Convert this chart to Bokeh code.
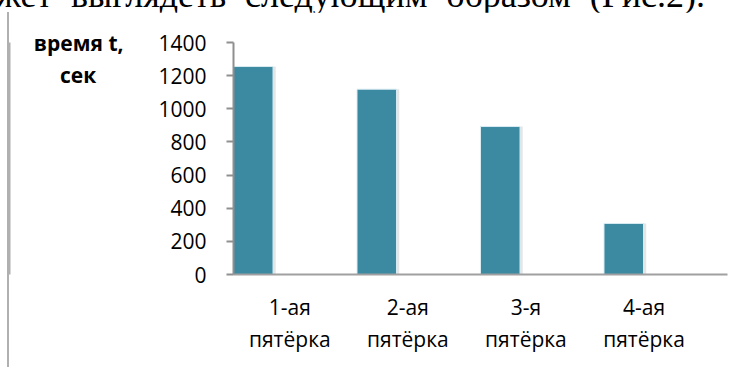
from bokeh.plotting import figure
from bokeh.models import Range1d, FixedTicker, CustomJSTickFormatter, Div, Spacer, LinearAxis
from bokeh.layouts import column, row
from bokeh.embed import file_html
from bokeh.resources import INLINE

# ---- data ----
categories = ["1-ая\nпятёрка", "2-ая\nпятёрка", "3-я\nпятёрка", "4-ая\nпятёрка"]
times = [1255, 1118, 893, 308]
y_ticks = [0, 200, 400, 600, 800, 1000, 1200, 1400]
y_title = ["время t,", "сек"]
caption = "жет выглядеть следующим образом (Рис.2)."

W, H = 747, 367
CAP_H = 12          # strip above the chart (document caption)
LINE = 2            # frame line thickness
LEFT_PAD = 7        # frame's left edge offset
PW, PH = W - LEFT_PAD - LINE, H - CAP_H
FONT = "Open Sans"
BAR = "#3b8aa2"
FRAME = "#b0b0b0"
NB = "\u00a0"

n = len(categories)
bar_x = [i + 0.16 for i in range(n)]
label_x = [i + 0.5 - 0.044 * (i + 1) for i in range(n)]

p = figure(width=PW, height=PH, output_backend="svg", toolbar_location=None,
           x_range=Range1d(0, n), y_range=Range1d(0, 1400),
           min_border_left=232 - LEFT_PAD - LINE, min_border_right=20,
           min_border_top=42 - CAP_H, min_border_bottom=93,
           background_fill_color="white", border_fill_color="white", margin=0)
p.outline_line_color = None
p.grid.visible = False

# shadow + bars
p.vbar(x=[x + 0.012 for x in bar_x], top=times, bottom=-12, width=0.34,
       fill_color="#000000", fill_alpha=0.10, line_color=None)
p.vbar(x=bar_x, top=times, width=0.32, fill_color=BAR,
       line_color="#d8ecf2", line_width=1)

# y axis
ya = p.yaxis[0]
ya.ticker = FixedTicker(ticks=y_ticks)
ya.axis_line_color = "#8f8f8f"
ya.axis_line_width = 2
ya.major_tick_line_color = "#8f8f8f"
ya.major_tick_line_width = 2
ya.major_tick_out = 7
ya.major_tick_in = 0
ya.minor_tick_line_color = None
ya.major_label_text_font = FONT
ya.major_label_text_font_size = "21px"
ya.major_label_text_color = "#000000"
ya.major_label_standoff = 20

# y title: a bare axis (no line, no ticks) that only carries the label;
# lines are right-aligned by the axis, so pad them to look centred
title_text = "\n" + NB * 4 + y_title[0] + "\n" + y_title[1] + NB * 5
ta = LinearAxis(ticker=FixedTicker(ticks=[]), axis_line_color=None,
                major_tick_line_color=None, minor_tick_line_color=None,
                major_tick_out=0, major_label_standoff=0,
                axis_label=title_text, axis_label_orientation="horizontal",
                axis_label_text_font=FONT, axis_label_text_font_style="bold",
                axis_label_text_font_size="21px", axis_label_text_color="#000000",
                axis_label_text_line_height=1.17, axis_label_standoff=32)
if "axis_label_align" in ta.properties():
    ta.axis_label_align = "end"
p.add_layout(ta, "left")

# left edge of the chart frame (outermost bare axis line)
fl = LinearAxis(ticker=FixedTicker(ticks=[]), axis_line_color=FRAME, axis_line_width=2,
                major_tick_line_color=None, minor_tick_line_color=None,
                major_tick_out=0, major_label_standoff=0, axis_label_standoff=0)
p.add_layout(fl, "left")

# x axis
xa = p.xaxis[0]
xa.ticker = FixedTicker(ticks=label_x)
xa.formatter = CustomJSTickFormatter(args=dict(labels=categories),
                                     code="return labels[Math.floor(tick)]")
xa.axis_line_color = "#a0a0a0"
xa.axis_line_width = 2
xa.major_tick_line_color = None
xa.minor_tick_line_color = None
xa.major_label_text_font = FONT
xa.major_label_text_font_size = "21px"
xa.major_label_text_color = "#000000"
xa.major_label_text_line_height = 1.17
xa.major_label_standoff = 12

# caption strip: justified document line, mostly cut off by the window top
cap_html = (
    f'<div style="position:relative;width:{W}px;height:{CAP_H}px;margin:0;">'
    f'<div style="position:absolute;left:-4px;width:709px;top:-21px;'
    f'text-align:justify;text-align-last:justify;white-space:nowrap;'
    f'font-family:\'Liberation Serif\';font-size:36px;line-height:33px;color:#000;">{caption}</div>'
    '</div>'
)
cap_div = Div(text=cap_html, width=W, height=CAP_H, margin=0)

left_line = Div(text="", width=LINE, height=PH, margin=0,
                styles={"background-color": FRAME})

layout = column(cap_div,
                row(Spacer(width=LEFT_PAD, height=PH, margin=0), left_line, p,
                    spacing=0, margin=0),
                spacing=0, margin=0)

open("out.html", "w").write(file_html(layout, INLINE))
